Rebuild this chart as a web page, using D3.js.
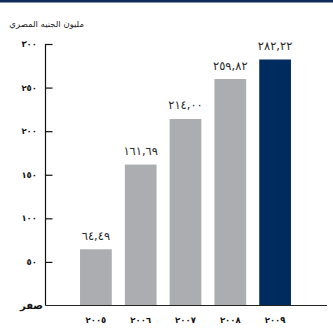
<!DOCTYPE html>
<html>
<head>
<meta charset="utf-8">
<script src="https://cdn.jsdelivr.net/npm/d3@7"></script>
<style>
  html, body { margin: 0; padding: 0; background: #fff; }
  svg { display: block; }
</style>
</head>
<body>
<svg id="chart" width="333" height="329"></svg>
<script>
// Revenue by year, million Egyptian pounds
const years = ["٢٠٠٥", "٢٠٠٦", "٢٠٠٧", "٢٠٠٨", "٢٠٠٩"];
const values = [64.49, 161.69, 214.00, 259.82, 282.22];
const valueLabels = ["٦٤,٤٩", "١٦١,٦٩", "٢١٤,٠٠", "٢٥٩,٨٢", "٢٨٢,٢٢"];
const tickValues = [0, 50, 100, 150, 200, 250, 300];
const tickLabels = ["صفر", "٥٠", "١٠٠", "١٥٠", "٢٠٠", "٢٥٠", "٣٠٠"];
const unitTitle = "مليون الجنيه المصري";

const svg = d3.select("#chart");
const W = 333;

const grey = "#acadb1";
const navy = "#002b5f";

// top rule
svg.append("rect").attr("x", 0).attr("y", 0).attr("width", W).attr("height", 2.5).attr("fill", "#0b2a58");

const axisX = 45.5, baseY = 305.5, rightEnd = 327;

const y = d3.scaleLinear().domain([0, 300]).range([baseY, 44]);
const x = d3.scaleBand().domain(years).range([66.6, 304.4]).paddingInner(0.292).paddingOuter(0.3);

// unit title
svg.append("text")
  .attr("x", 84).attr("y", 27)
  .attr("text-anchor", "start")
  .attr("direction", "rtl")
  .attr("font-family", "DejaVu Sans, sans-serif")
  .attr("font-size", 8.5)
  .attr("fill", "#222")
  .text(unitTitle);

// bars
svg.selectAll("rect.bar").data(values).enter().append("rect")
  .attr("class", "bar")
  .attr("x", (d, i) => x(years[i]))
  .attr("width", x.bandwidth())
  .attr("y", d => y(d))
  .attr("height", d => baseY - y(d))
  .attr("fill", (d, i) => i === values.length - 1 ? navy : grey);

// value labels
svg.selectAll("text.val").data(values).enter().append("text")
  .attr("class", "val")
  .attr("x", (d, i) => x(years[i]) + x.bandwidth() / 2)
  .attr("y", d => y(d) - 9.5)
  .attr("text-anchor", "middle")
  .attr("font-family", "DejaVu Sans, sans-serif")
  .attr("font-size", 11.5)
  .attr("fill", "#2a2a2a")
  .text((d, i) => valueLabels[i]);

// y axis with inward ticks
const yAxis = d3.axisRight(y).tickValues(tickValues).tickSize(7).tickFormat("");
const gy = svg.append("g").attr("transform", `translate(${axisX},0)`).call(yAxis);
gy.select(".domain").remove();
gy.selectAll(".tick line").attr("stroke", "#111").attr("stroke-width", 1.2);
gy.selectAll(".tick").filter(d => d === 0).remove();

svg.append("line")
  .attr("x1", axisX).attr("x2", axisX)
  .attr("y1", y(300)).attr("y2", baseY)
  .attr("stroke", "#111").attr("stroke-width", 1.2);

svg.append("line")
  .attr("x1", axisX).attr("x2", rightEnd)
  .attr("y1", baseY).attr("y2", baseY)
  .attr("stroke", "#222").attr("stroke-width", 1.2);

// tick labels
svg.selectAll("text.tick").data(tickValues).enter().append("text")
  .attr("class", "tick")
  .attr("x", (d) => d === 0 ? 43 : 37)
  .attr("y", d => y(d))
  .attr("dy", "0.35em")
  .attr("text-anchor", "end")
  .attr("font-family", "DejaVu Sans, sans-serif")
  .attr("font-weight", "bold")
  .attr("font-size", d => d === 0 ? 10 : 8.5)
  .attr("fill", "#111")
  .text((d, i) => tickLabels[i]);

// year labels
svg.selectAll("text.year").data(years).enter().append("text")
  .attr("class", "year")
  .attr("x", d => x(d) + x.bandwidth() / 2)
  .attr("y", 323)
  .attr("text-anchor", "middle")
  .attr("font-family", "DejaVu Sans, sans-serif")
  .attr("font-weight", "bold")
  .attr("font-size", 8.5)
  .attr("fill", "#111")
  .text(d => d);
</script>
</body>
</html>
